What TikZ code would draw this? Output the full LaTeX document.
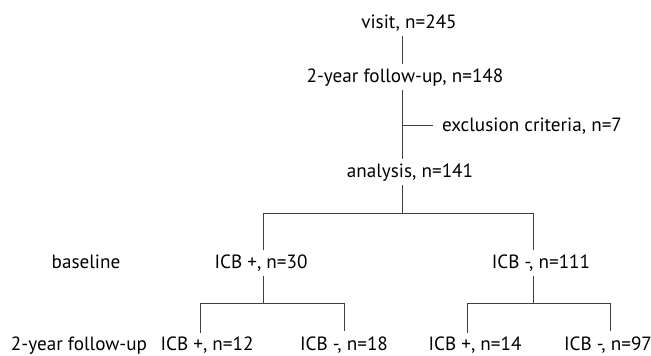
\documentclass[tikz,border=0pt]{standalone}
\usepackage{fontspec}
\setmainfont{PT Sans}
\usetikzlibrary{positioning}

\begin{document}
\begin{tikzpicture}[x=0.6pt,y=-0.6pt,
		box/.style={anchor=base, inner xsep=1pt, inner ysep=2pt, text height=8.5pt, text depth=2.5pt, font=\fontsize{11.5}{13}\selectfont},
		conn/.style={draw=black!75, line width=0.6pt}]
	
	\useasboundingbox (0,0) rectangle (651,355);
	
	% flow down the middle
	\node[box] (visit) at (409,28) {visit, n=245};
	\node[box] (fu) at (405,82) {2-year follow-up, n=148};
	\node[box,anchor=base west] (excl) at (440,131) {exclusion criteria, n=7};
	\node[box] (ana) at (410,177) {analysis, n=141};
	
	% row labels
	\node[box] (baseline) at (86,268) {baseline};
	\node[box,inner ysep=0pt,text depth=0pt] (fulabel) at (79,350) {2-year follow-up};
	
	% groups
	\node[box] (pos30) at (261,268) {ICB +, n=30};
	\node[box] (neg111) at (541,268) {ICB -, n=111};
	\node[box,inner ysep=0pt,text depth=0pt] (pos12) at (207,350) {ICB +, n=12};
	\node[box,inner ysep=0pt,text depth=0pt] (neg18) at (344,350) {ICB -, n=18};
	\node[box,inner ysep=0pt,text depth=0pt] (pos14) at (475,350) {ICB +, n=14};
	\node[box,inner ysep=0pt,text depth=0pt] (neg97) at (608,350) {ICB -, n=97};
	
	\coordinate (spine) at (402,0);
	\coordinate (jexcl) at (402,125);
	\coordinate (jtop) at (402,213);
	\coordinate (jpos) at (263,303);
	\coordinate (jneg) at (533,303);
	\coordinate (xpos12) at (200,0);
	\coordinate (xneg18) at (344,0);
	\coordinate (xpos14) at (467,0);
	\coordinate (xneg97) at (610,0);
	
	\draw[conn] (visit.south -| spine) -- (fu.north -| spine);
	\draw[conn] (fu.south -| spine) -- (ana.north -| spine);
	\draw[conn] (jexcl) -- ++(31,0) coordinate (jexclend);
	\draw[conn] (ana.south -| spine) -- (jtop);
	\draw[conn] (pos30.north -| jpos) |- (jtop) -| (neg111.north -| jneg);
	
	\draw[conn] (pos30.south -| jpos) -- (jpos);
	\draw[conn] (neg111.south -| jneg) -- (jneg);
	\draw[conn] (pos12.north -| xpos12) ++(0,-3) |- (jpos) -| ([yshift=3]neg18.north -| xneg18);
	\draw[conn] (pos14.north -| xpos14) ++(0,-3) |- (jneg) -| ([yshift=3]neg97.north -| xneg97);
	
\end{tikzpicture}
\end{document}
